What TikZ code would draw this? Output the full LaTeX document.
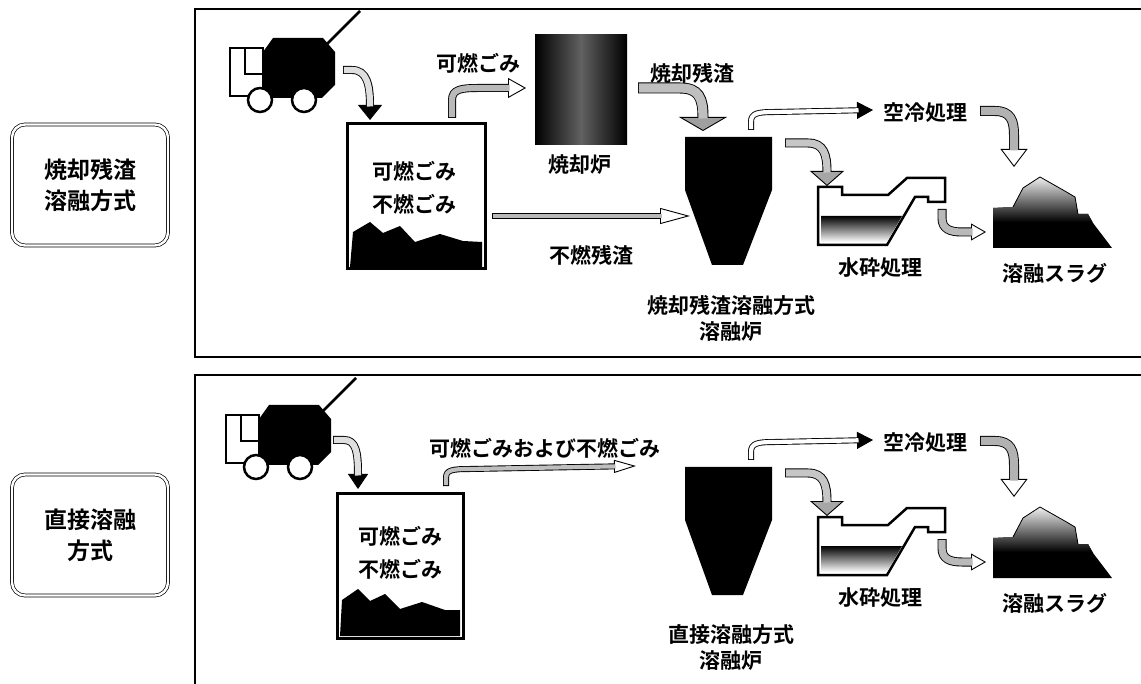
\documentclass[tikz,border=0pt]{standalone}
\usepackage{fontspec}
\usepackage{tikz}
\usetikzlibrary{arrows.meta}
\newfontfamily\jp{Noto Sans CJK JP}[BoldFont={Noto Sans CJK JP Bold}]

\tikzset{
  txt/.style={font=\jp\bfseries\fontsize{21}{26}\selectfont, align=center, inner sep=0pt},
  methodbox/.style={draw, line width=0.7pt, double, double distance=2.4pt, rounded corners=13pt,
    minimum width=156pt, minimum height=121pt, align=center,
    font=\jp\bfseries\fontsize{23}{31}\selectfont},
  % block arrow: body width, head width, head length, body colour, head colour
  fat/.style n args={5}{line width=#1, draw=black,
    -{Triangle[width=#2,length=#3,line width=0.9pt,fill=#5]},
    postaction={draw=#4, line width=#1-1.8pt, -, shorten >=#3-1.5pt, shorten <=0.9pt}},
}

% truck, origin at the front wheel line
\newcommand{\garbagetruck}{%
  \draw[line width=2.5pt] (97,-56) -- (130,-89);
  \fill (33,-48) -- (43,-62) -- (93,-62) -- (105,-48) -- (105,-15) -- (92,-2) -- (33,-2) -- cycle;
  \draw[line width=2.5pt, fill=white] (0,-52) rectangle (33,-4);
  \draw[line width=2pt] (15,-52) -- (15,-26) -- (33,-26);
  \draw[line width=2.5pt, fill=white] (30,0) circle (12pt) (74,0) circle (12pt);
}

% melting furnace, quench, air cooling and slag heap
\newcommand{\slagline}[1]{%
  \fill (685,137) -- (772,137) -- (772,190) -- (743,265) -- (712,265) -- (685,190) -- cycle;
  \node[txt] (furnace) at (731,318) {#1\\溶融炉};
  % water granulation trough
  \draw[line width=2.5pt, fill=white] (818,187) -- (842,187) -- (842,195) -- (888,195) -- (907,178)
    -- (945,178) -- (945,202) -- (928,202) -- (928,197) -- (915,197) -- (887,245) -- (818,245) -- cycle;
  \shade[top color=black, middle color=black!75, bottom color=white]
    (821,216) -- (902,216) -- (887,242) -- (821,242) -- cycle;
  \node[txt] (quench) at (880,268) {水砕処理};
  % slag heap
  \begin{scope}
    \clip (993,208) -- (1013,207) -- (1023,188) -- (1040,177) -- (1063,190) -- (1075,197) -- (1078,214)
      -- (1088,214) -- (1093,223) -- (1112,248) -- (993,248) -- cycle;
    \fill (990,170) rectangle (1115,250);
    \shade[top color=gray!8, bottom color=black] (990,176) rectangle (1115,222);
  \end{scope}
  \draw[line width=0.8pt] (1013,207) -- (1023,188) -- (1040,177) -- (1063,190) -- (1075,197) -- (1078,214);
  \node[txt] (slag) at (1055,273) {溶融スラグ};
  \node[txt] (aircool) at (925,113) {空冷処理};
  % arrows
  \coordinate (coolfrom) at (751,130);
  \coordinate (coolto) at (873,110);
  \draw[fat={6pt}{17pt}{16pt}{white}{black}] (coolfrom) -- (751,122) .. controls (751,113) and (758,112) .. (775,112) -- (coolto);
  \coordinate (quenchfrom) at (785,143);
  \coordinate (quenchto) at (827,186);
  \draw[fat={9pt}{34pt}{15pt}{gray!45}{gray!70}] (quenchfrom) -- (808,143) .. controls (824,143) and (827,155) .. (quenchto);
  \coordinate (granfrom) at (942,209);
  \coordinate (granto) at (986,232);
  \draw[fat={9pt}{17pt}{15pt}{gray!55}{white}] (granfrom) -- (942,218) .. controls (942,229) and (950,232) .. (962,232) -- (granto);
  \coordinate (heapfrom) at (980,111);
  \coordinate (heapto) at (1014,167);
  \draw[fat={10pt}{27pt}{18pt}{gray!60}{white}] (heapfrom) -- (995,111) .. controls (1011,111) and (1014,121) .. (1014,135) -- (heapto);
}

\begin{document}
\begin{tikzpicture}[x=1pt,y=-1pt]
\useasboundingbox (0,0) rectangle (1141,684);
\clip (0,0) rectangle (1141,684);
\fill[white] (0,0) rectangle (1141,684);

% panels
\draw[line width=1.2pt] (195,9) rectangle (1160,357);
\draw[line width=1.2pt] (195,375) rectangle (1160,700);
\node[methodbox] (ashmelt) at (90,185) {焼却残渣\\溶融方式};
\node[methodbox] (direct) at (90,535) {直接溶融\\方式};

%%% incineration residue melting
\begin{scope}[shift={(230,100)}]
  \garbagetruck
\end{scope}
\draw[line width=3pt, fill=white] (347,124) rectangle (485,269);
\fill (353,232) -- (370,222) -- (383,233) -- (400,226) -- (415,242) -- (440,234) -- (463,241)
  -- (482,242) -- (482,267) -- (350,267) -- cycle;
\node[txt, font=\jp\bfseries\fontsize{21}{33}\selectfont] (bin) at (414,188) {可燃ごみ\\不燃ごみ};
\shade[left color=black, right color=black, middle color=black!62] (535,35) rectangle (627,145);
\node[txt] (incin) at (580,165) {焼却炉};
\node[txt] (burnable) at (478,63) {可燃ごみ};
\node[txt] (ash) at (692,73) {焼却残渣};
\node[txt] (unburnt) at (591,255) {不燃残渣};

\coordinate (dropfrom) at (343,70);
\coordinate (dropto) at (370,120);
\draw[fat={8pt}{24pt}{15pt}{gray!25}{black}] (dropfrom) -- (352,70) .. controls (367,70) and (370,85) .. (dropto);
\coordinate (burnfrom) at (452,118);
\coordinate (burnto) at (526,88);
\draw[fat={8pt}{20pt}{18pt}{gray!55}{white}] (burnfrom) -- (452,100) .. controls (452,89) and (462,88) .. (478,88) -- (burnto);
\coordinate (ashfrom) at (638,88);
\coordinate (ashto) at (703,131);
\draw[fat={11pt}{48pt}{14pt}{gray!50}{gray!75}] (ashfrom) -- (680,88) .. controls (699,88) and (703,98) .. (ashto);
\coordinate (residfrom) at (492,216);
\coordinate (residto) at (690,216);
\draw[fat={6pt}{16pt}{30pt}{gray!55}{white}] (residfrom) -- (residto);

\slagline{焼却残渣溶融方式}

%%% direct melting
\begin{scope}[shift={(226,467)}]
  \garbagetruck
\end{scope}
\draw[line width=3pt, fill=white] (337,493) rectangle (463,638);
\fill (342,600) -- (358,589) -- (370,601) -- (385,594) -- (400,609) -- (422,602) -- (445,610)
  -- (460,610) -- (460,636) -- (340,636) -- cycle;
\node[txt, font=\jp\bfseries\fontsize{21}{33}\selectfont] (bintwo) at (400,553) {可燃ごみ\\不燃ごみ};
\node[txt] (mixed) at (545,448) {可燃ごみおよび不燃ごみ};

\coordinate (droptwofrom) at (333,440);
\coordinate (droptwoto) at (358,489);
\draw[fat={8pt}{20pt}{15pt}{gray!25}{black}] (droptwofrom) -- (344,440) .. controls (356,440) and (358,452) .. (droptwoto);
\coordinate (mixfrom) at (446,486);
\coordinate (mixto) at (636,466);
\draw[fat={6pt}{13pt}{22pt}{gray!50}{white}] (mixfrom) -- (446,478) .. controls (446,470) and (452,469) .. (470,469) -- (mixto);

\begin{scope}[shift={(0,330)}]
  \slagline{直接溶融方式}
\end{scope}
\end{tikzpicture}
\end{document}
